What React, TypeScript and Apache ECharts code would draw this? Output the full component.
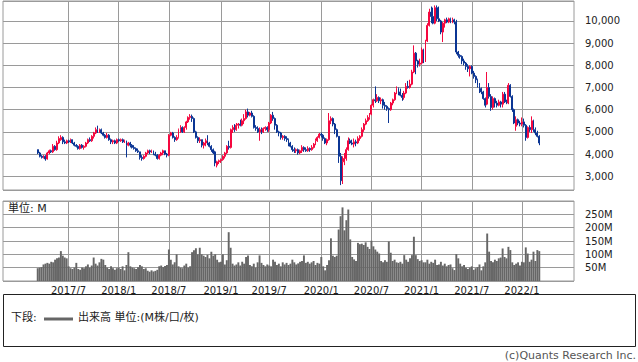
import React, { useEffect, useRef } from 'react';
import * as echarts from 'echarts';

// Weekly axis: first category and number of weeks shown on the x axis
const FIRST_WEEK = '2016-11-07';
const WEEK_COUNT = 297;
const DATA_START = '2017-03-13';

// Weekly candles [open, close, low, high], from 2017-03-13
const ohlc: number[][] = [
  [4200,4050,4000,4200],[4050,3900,3850,4100],[3900,3850,3800,3950],[3850,3900,3800,3950],[3900,3780,3700,3950],[3780,4050,3750,4100],[4050,4150,4000,4200],[4150,4100,4050,4200],[4100,4350,4050,4450],[4350,4200,4150,4400],
  [4200,4500,4150,4600],[4500,4700,4450,4800],[4650,4750,4600,4850],[4750,4550,4450,4800],[4550,4500,4450,4650],[4500,4600,4450,4650],[4600,4550,4500,4650],[4550,4650,4500,4700],[4650,4500,4450,4650],[4500,4400,4350,4550],
  [4400,4350,4300,4450],[4350,4250,4200,4400],[4250,4400,4200,4450],[4400,4300,4250,4450],[4300,4350,4200,4400],[4350,4500,4300,4550],[4500,4650,4450,4700],[4650,4600,4550,4750],[4600,4800,4550,4850],[4800,4950,4700,5000],
  [4950,5100,4900,5200],[5100,5000,4950,5280],[5000,5100,4950,5150],[5100,4950,4900,5150],[4950,4850,4800,5000],[4850,4750,4700,4900],[4750,4850,4700,4950],[4850,4650,4600,4900],[4650,4550,4450,4700],[4550,4600,4450,4650],
  [4600,4500,4450,4650],[4500,4650,4450,4700],[4650,4600,4550,4700],[4600,4650,4550,4700],[4650,4550,4500,4700],[4550,4600,4500,4650],[4600,4400,3850,4600],[4400,4500,4350,4550],[4500,4400,4300,4550],[4400,4300,4250,4450],
  [4300,4250,4200,4400],[4250,4150,4100,4300],[4150,4100,4050,4250],[4100,3850,3750,4100],[3850,3800,3700,3950],[3800,3900,3750,3950],[3900,4050,3850,4100],[4050,4150,4000,4200],[4150,4100,4000,4200],[4100,4150,4050,4200],
  [4150,4000,3950,4150],[4000,3950,3900,4100],[3950,3800,3750,4000],[3800,3950,3750,4000],[3950,4050,3900,4100],[4050,4150,3950,4200],[4150,4000,3950,4150],[4000,3950,3850,4050],[3950,4850,3900,4900],[4850,4950,4800,5000],
  [4950,4750,4700,5000],[4750,4650,4550,4800],[4650,4750,4600,4850],[4750,5100,4700,5150],[5100,5200,4950,5300],[5200,5000,4950,5250],[5000,5200,4950,5250],[5200,5450,5100,5500],[5450,5650,5400,5700],[5650,5700,5550,5800],
  [5700,5600,5450,5780],[5600,5000,4950,5650],[5000,4750,4700,5050],[4750,4600,4500,4800],[4600,4650,4500,4750],[4650,4400,4300,4650],[4400,4500,4250,4550],[4500,4600,4350,4700],[4600,4500,4400,4850],[4500,4350,4300,4550],
  [4350,4200,4100,4400],[4200,4050,4000,4250],[4100,3600,3450,4150],[3500,3650,3400,3700],[3650,3700,3550,3750],[3700,3750,3600,3800],[3750,3900,3700,3950],[3900,4050,3800,4100],[4050,4350,4000,4400],[4350,4300,4200,4600],
  [4300,5100,4250,5150],[5100,5200,4950,5300],[5200,5100,5000,5350],[5100,5300,5050,5400],[5300,5350,5150,5400],[5350,5300,5250,5550],[5300,5500,5250,5600],[5500,5600,5350,5800],[5600,5900,5550,6000],[5900,5750,5650,6050],
  [5750,5850,5700,5900],[5850,5700,5650,5950],[5700,5200,5150,5750],[5200,5150,5050,5300],[5150,5000,4950,5250],[5000,5100,4600,5200],[5100,5000,4900,5200],[5000,5150,4950,5200],[5150,5200,5050,5250],[5200,5100,5000,5250],
  [5100,5400,5000,5450],[5400,5750,5350,5800],[5750,5600,5500,5900],[5600,5300,5100,5650],[5300,5000,4950,5350],[5000,4950,4800,5050],[4950,4750,4650,5000],[4750,4800,4650,4850],[4800,4700,4600,4850],[4700,4650,4550,4800],
  [4650,4500,4350,4700],[4500,4350,4300,4550],[4350,4200,4100,4400],[4200,4150,4050,4300],[4150,4200,4050,4250],[4200,4050,3970,4250],[4050,4150,4000,4200],[4150,4300,4050,4400],[4300,4200,4100,4350],[4200,4150,4100,4300],
  [4150,4250,4100,4350],[4250,4200,4100,4300],[4200,4300,4150,4400],[4300,4450,4250,4500],[4450,4600,4400,4700],[4600,4750,4550,4800],[4750,4900,4700,4950],[4900,4850,4750,4970],[4850,4700,4600,4900],[4700,4500,4450,4750],
  [4500,4650,4400,4700],[4650,5500,4600,5850],[5500,5600,5350,5700],[5600,5350,5250,5650],[5350,5100,4900,5400],[5100,4800,4750,5150],[4800,3900,3600,4800],[3900,2800,2600,4050],[2700,3650,2650,3900],[3650,3800,3500,4050],
  [3800,4200,3700,4300],[4200,4600,4150,4750],[4600,4500,4450,4700],[4500,4450,4400,4650],[4450,4550,4300,4700],[4550,4500,4350,4650],[4500,4700,4450,4800],[4700,4800,4600,4850],[4800,5100,4750,5200],[5100,5350,5000,5400],
  [5350,5500,5300,5600],[5500,5650,5450,5750],[5650,5800,5550,5850],[5800,6200,5750,6250],[6200,6450,6100,6500],[6450,6400,6300,7050],[6400,6550,6350,6700],[6550,6400,6300,6600],[6400,6450,6250,6550],[6450,6200,6050,6500],
  [6200,6150,6000,6350],[6150,6050,5950,6200],[6050,6000,5400,6100],[6000,6300,5950,6350],[6300,6450,6200,6500],[6450,6750,6400,6800],[6750,6950,6700,7050],[6950,6800,6650,7000],[6800,6650,6600,6950],[6650,6550,6400,6750],
  [6550,6750,6450,6850],[6750,7050,6700,7200],[7050,7000,6950,7300],[7000,7150,6950,7350],[7150,7700,7100,7800],[7700,8550,7650,8900],[8550,8200,7600,8600],[8200,8050,7900,8250],[8050,8100,7950,8300],[8100,8700,8050,8800],
  [8700,8200,8100,8750],[8200,9100,8150,9150],[9100,9800,9050,9900],[9800,10400,9750,10550],[10400,10200,9900,10650],[10200,9900,9850,10600],[9900,10600,9850,10700],[10600,10100,10000,10700],[10100,10000,9950,10650],[10000,9500,9400,10050],
  [9500,9900,9050,9950],[9900,10050,9700,10100],[10050,9950,9900,10150],[9950,10100,9900,10150],[10100,9950,9900,10150],[9950,10050,9900,10150],[10050,9950,9850,10100],[9950,8600,8500,10050],[8600,8450,8350,8650],[8450,8400,8300,8500],
  [8400,8200,8050,8450],[8200,8100,8000,8300],[8100,7950,7800,8150],[7950,7850,7700,8050],[7850,7950,7500,8000],[7950,7650,7600,8000],[7650,7500,7400,7750],[7500,7350,7200,7550],[7350,7100,7000,7400],[7100,6950,6750,7200],
  [6950,6800,6700,7000],[6800,6500,6450,6850],[6500,6200,6100,6550],[6250,7000,6200,7700],[7000,6600,6500,7200],[6600,6100,5950,6700],[6100,6500,6000,6600],[6500,6300,6100,6550],[6300,6200,6100,6400],[6200,6350,6150,6450],
  [6350,6250,6100,6400],[6250,6700,6100,6800],[6700,6350,6300,6800],[6350,6300,6250,6450],[6300,7100,6250,7200],[7100,6600,6550,7150],[6600,6000,5900,6650],[6000,5400,5350,6050],[5250,5550,5050,5700],[5550,5400,5300,5600],
  [5400,5350,5250,5500],[5350,5450,5250,5650],[5450,5300,5200,5600],[5300,4750,4600,5350],[4750,5200,4700,5250],[5200,5100,5000,5300],[5100,5500,4950,5700],[5500,5100,5000,5550],[5100,4950,4850,5200],[4950,4800,4750,5050],
  [4800,4500,4400,4850],
];

// Weekly volume, millions, from 2017-03-13
const volume: number[] = [
  48,50,52,62,65,68,65,72,70,80,
  85,88,112,95,88,85,55,48,45,50,
  68,45,42,50,48,55,62,50,58,88,
  65,58,70,83,80,60,50,45,55,48,
  42,48,50,45,55,40,60,108,55,50,
  48,45,52,60,55,45,48,38,35,40,
  36,38,42,55,58,52,56,60,118,80,
  62,70,100,55,50,48,58,65,50,55,
  108,115,123,100,125,100,95,90,98,85,
  110,95,100,80,70,72,100,62,78,183,
  125,65,58,62,70,58,72,65,90,96,
  60,55,65,50,70,96,68,60,55,62,
  58,55,80,72,60,65,55,70,62,68,
  60,65,80,70,62,66,72,75,96,68,
  72,65,70,75,60,68,65,90,55,40,
  60,78,160,95,90,95,193,243,276,190,
  228,268,156,90,81,75,143,138,140,135,
  145,128,120,151,130,118,110,103,75,70,
  78,72,148,106,75,80,70,68,72,65,
  97,80,72,85,97,166,97,82,75,78,
  70,70,80,65,72,68,80,60,62,72,
  58,65,55,60,62,48,41,101,85,65,
  55,60,50,45,50,55,42,48,52,62,
  40,55,70,178,110,75,70,80,75,85,
  88,122,90,85,128,116,70,60,65,70,
  58,72,70,126,103,72,80,110,75,116,
  112,
];

const PRICE_MIN = 2380;
const PRICE_MAX = 10900;
const VOL_MAX = 300;
const MARK_MONTHS = [1, 7];
const LABEL_FROM = '2017-07-01';
const LABEL_TO = '2022-01-31';

const UP = '#f5083f';
const DOWN = '#0b3594';
const GRID = '#9a9a9a';
const FONT = "'DejaVu Sans', 'Noto Sans CJK JP', sans-serif";

const DAY = 86400000;
const parse = (s: string) => {
  const [y, m, d] = s.split('-').map(Number);
  return Date.UTC(y, m - 1, d);
};
const weeks: Date[] = Array.from({ length: WEEK_COUNT }, (_, i) => new Date(parse(FIRST_WEEK) + i * 7 * DAY));
const categories = weeks.map((d) => `${d.getUTCFullYear()}/${d.getUTCMonth() + 1}/${d.getUTCDate()}`);
const offset = Math.round((parse(DATA_START) - parse(FIRST_WEEK)) / (7 * DAY));

const isMark = (i: number) => {
  const d = weeks[i];
  if (!d) return false;
  const t = d.getTime();
  if (t < parse(LABEL_FROM) || t > parse(LABEL_TO)) return false;
  return MARK_MONTHS.includes(d.getUTCMonth() + 1) && d.getUTCDate() <= 7;
};

const candleData = categories.map((_, i) => {
  const k = i - offset;
  return k >= 0 && k < ohlc.length ? ohlc[k] : ['-', '-', '-', '-'];
});
const volData = categories.map((_, i) => {
  const k = i - offset;
  return k >= 0 && k < volume.length ? volume[k] : '-';
});

export default function App() {
  const ref = useRef<HTMLDivElement>(null);
  useEffect(() => {
    if (!ref.current) return;
    const chart = echarts.init(ref.current, undefined, { renderer: 'svg' });
    const xBase = {
      type: 'category' as const,
      data: categories,
      boundaryGap: false,
      axisLine: { show: false },
      axisTick: { show: false },
      splitLine: { show: true, interval: (i: number) => isMark(i), lineStyle: { color: GRID, width: 1 } },
    };
    chart.setOption({
      animation: false,
      backgroundColor: '#ffffff',
      textStyle: { fontFamily: FONT },
      grid: [
        { left: 3, top: 1, width: 571, height: 189, show: true, borderColor: GRID, borderWidth: 1 },
        { left: 3, top: 201, width: 571, height: 80, show: true, borderColor: GRID, borderWidth: 1 },
      ],
      xAxis: [
        { ...xBase, gridIndex: 0, axisLabel: { show: false } },
        {
          ...xBase,
          gridIndex: 1,
          axisLabel: {
            show: true,
            interval: (i: number) => isMark(i),
            formatter: (v: string) => {
              const p = v.split('/');
              return `${p[0]}/${p[1]}`;
            },
            color: '#222',
            fontSize: 10,
            fontFamily: FONT,
            margin: 4,
          },
        },
      ],
      yAxis: [
        {
          type: 'value',
          gridIndex: 0,
          position: 'right',
          min: PRICE_MIN,
          max: PRICE_MAX,
          splitNumber: 9,
          minInterval: 1000,
          maxInterval: 1000,
          axisLine: { show: false },
          axisTick: { show: false },
          splitLine: { show: true, lineStyle: { color: GRID, width: 1 } },
          axisLabel: {
            showMinLabel: false,
            showMaxLabel: false,
            color: '#222',
            fontSize: 10,
            fontFamily: FONT,
            margin: 11,
            formatter: (v: number) => v.toLocaleString('en-US'),
          },
        },
        {
          type: 'value',
          gridIndex: 1,
          position: 'right',
          min: 0,
          max: VOL_MAX,
          interval: 50,
          axisLine: { show: false },
          axisTick: { show: false },
          splitLine: { show: true, lineStyle: { color: GRID, width: 1 } },
          axisLabel: {
            showMinLabel: false,
            showMaxLabel: false,
            color: '#222',
            fontSize: 10,
            fontFamily: FONT,
            margin: 11,
            formatter: (v: number) => `${v}M`,
          },
        },
      ],
      series: [
        {
          type: 'candlestick',
          xAxisIndex: 0,
          yAxisIndex: 0,
          data: candleData,
          barWidth: 1.4,
          itemStyle: { color: UP, color0: DOWN, borderColor: UP, borderColor0: DOWN, borderWidth: 1 },
        },
        {
          type: 'bar',
          xAxisIndex: 1,
          yAxisIndex: 1,
          data: volData,
          barWidth: '100%',
          barCategoryGap: '0%',
          itemStyle: { color: '#666666' },
        },
      ],
      graphic: [
        { type: 'text', left: 8, top: 203, style: { text: '単位: M', fontSize: 11, fontFamily: FONT, fill: '#222' } },
        { type: 'rect', shape: { x: 3.5, y: 294.5, width: 632, height: 52 }, style: { fill: 'none', stroke: '#222', lineWidth: 1 } },
        { type: 'text', left: 11, top: 312, style: { text: '下段:', fontSize: 11, fontFamily: FONT, fill: '#222' } },
        { type: 'line', shape: { x1: 44, y1: 319, x2: 73, y2: 319 }, style: { stroke: '#666666', lineWidth: 3 } },
        { type: 'text', left: 78, top: 312, style: { text: '出来高 単位:(M株/口/枚)', fontSize: 11, fontFamily: FONT, fill: '#222' } },
        { type: 'text', right: 2, top: 350, style: { text: '(c)Quants Research Inc.', fontSize: 11, fontFamily: FONT, fill: '#555' } },
      ],
    });
    return () => chart.dispose();
  }, []);
  return <div ref={ref} style={{ position: 'absolute', left: 0, top: 0, width: 638, height: 362 }} />;
}
